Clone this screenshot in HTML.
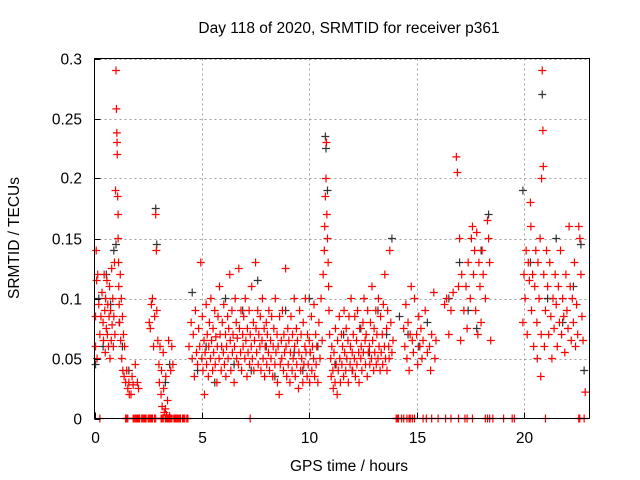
<!DOCTYPE html>
<html><head><meta charset="utf-8"><style>
body{margin:0;background:#fff;}
svg{display:block;font-family:"Liberation Sans",sans-serif;}
</style></head><body>
<svg id="chart" width="640" height="480" viewBox="0 0 640 480">
<rect width="640" height="480" fill="#fff"/>
<g id="grid"></g>
<g id="marks"></g>
<rect x="94.5" y="58.5" width="495" height="360" fill="none" stroke="#000" stroke-width="1"/>
<g id="ticks"></g>
<text x="349" y="33" font-size="15.5" text-anchor="middle">Day 118 of 2020, SRMTID for receiver p361</text>
<text x="349" y="471" font-size="15.5" text-anchor="middle">GPS time / hours</text>
<text transform="translate(19,238) rotate(-90)" font-size="15.5" text-anchor="middle">SRMTID / TECUs</text>
</svg>
<script>
const xTicks=[0,5,10,15,20];
const yTicks=[0,0.05,0.1,0.15,0.2,0.25,0.3];
const yTickLabels=["0","0.05","0.1","0.15","0.2","0.25","0.3"];
// red series: [hours, value]
const redEarly=[[0.05,0.085],[0.05,0.06],[0.08,0.14],[0.1,0.115],[0.12,0.05],[0.15,0.12],[0.2,0.095],[0.25,0.07],[0.3,0.085],[0.35,0.105],[0.4,0.08],[0.42,0.065],[0.45,0.12],[0.48,0.09],[0.5,0.055],[0.52,0.1],[0.55,0.075],[0.58,0.115],[0.6,0.07],[0.62,0.095],[0.65,0.06],[0.68,0.085],[0.7,0.11],[0.72,0.05],[0.75,0.09],[0.78,0.065],[0.8,0.125],[0.82,0.078],[0.85,0.1],[0.88,0.06],[0.9,0.085],[0.93,0.13],[0.95,0.07],[0.98,0.19],[1.0,0.29],[1.02,0.258],[1.04,0.238],[1.05,0.23],[1.06,0.22],[1.08,0.185],[1.1,0.17],[1.1,0.15],[1.12,0.13],[1.13,0.11],[1.15,0.095],[1.17,0.08],[1.2,0.12],[1.22,0.065],[1.25,0.1],[1.27,0.05],[1.3,0.085],[1.32,0.04],[1.35,0.07],[1.38,0.035],[1.4,0.06],[1.45,0.03],[1.5,0.04],[1.55,0.025],[1.6,0.03],[1.62,0.02],[1.7,0.02],[1.75,0.035],[1.8,0.028],[1.9,0.045],[2.0,0.03],[2.05,0.025]];
const redB=[[2.55,0.08],[2.6,0.075],[2.65,0.095],[2.7,0.1],[2.75,0.06],[2.8,0.085],[2.85,0.17],[2.88,0.14],[2.9,0.09],[2.95,0.065],[3.0,0.045],[3.02,0.03],[3.05,0.06],[3.1,0.02],[3.12,0.04],[3.15,0.01],[3.2,0.055],[3.22,0.025],[3.25,0.005],[3.3,0.008],[3.32,0.035],[3.35,0.003],[3.4,0.015],[3.45,0.065],[3.5,0.002],[3.55,0.04],[3.6,0.06],[3.65,0.045],[4.4,0.06],[4.5,0.08]];
const redBand=[[4.55,0.05],[4.6,0.07],[4.65,0.035],[4.7,0.09],[4.75,0.055],[4.8,0.045],[4.85,0.075],[4.9,0.06],[4.95,0.13],[5.0,0.05],[5.02,0.085],[5.05,0.04],[5.1,0.065],[5.12,0.02],[5.15,0.055],[5.2,0.095],[5.22,0.045],[5.25,0.07],[5.3,0.035],[5.32,0.06],[5.35,0.08],[5.4,0.05],[5.42,0.1],[5.45,0.065],[5.5,0.04],[5.52,0.075],[5.55,0.055],[5.6,0.09],[5.62,0.045],[5.65,0.068],[5.7,0.03],[5.72,0.06],[5.75,0.085],[5.8,0.05],[5.82,0.11],[5.85,0.07],[5.9,0.04],[5.92,0.06],[5.95,0.08],[6.0,0.055],[6.02,0.095],[6.05,0.045],[6.1,0.07],[6.12,0.035],[6.15,0.06],[6.2,0.085],[6.22,0.05],[6.25,0.075],[6.3,0.12],[6.32,0.065],[6.35,0.04],[6.4,0.09],[6.42,0.055],[6.45,0.07],[6.5,0.03],[6.52,0.06],[6.55,0.1],[6.6,0.08],[6.62,0.05],[6.65,0.067],[6.7,0.045],[6.72,0.125],[6.75,0.075],[6.8,0.055],[6.82,0.09],[6.85,0.04],[6.9,0.07],[6.92,0.06],[6.95,0.085],[7.0,0.05],[7.02,0.1],[7.05,0.065],[7.1,0.035],[7.12,0.075],[7.15,0.055],[7.2,0.09],[7.22,0.045],[7.25,0.07],[7.3,0.06],[7.32,0.11],[7.35,0.05],[7.4,0.08],[7.42,0.04],[7.45,0.065],[7.5,0.13],[7.52,0.075],[7.55,0.055],[7.6,0.09],[7.62,0.045],[7.65,0.07],[7.7,0.06],[7.72,0.085],[7.75,0.04],[7.8,0.065],[7.82,0.1],[7.85,0.05],[7.9,0.075],[7.92,0.035],[7.95,0.06],[8.0,0.08],[8.02,0.045],[8.05,0.07],[8.1,0.055],[8.12,0.09],[8.15,0.04],[8.2,0.065],[8.22,0.05],[8.25,0.085],[8.3,0.035],[8.32,0.06],[8.35,0.075],[8.4,0.045],[8.42,0.1],[8.45,0.055],[8.5,0.07],[8.52,0.03],[8.55,0.06],[8.6,0.02],[8.62,0.085],[8.65,0.045],[8.7,0.065],[8.72,0.05],[8.75,0.09],[8.8,0.04],[8.82,0.07],[8.85,0.055],[8.9,0.125],[8.92,0.06],[8.95,0.035],[9.0,0.075],[9.02,0.045],[9.05,0.065],[9.1,0.03],[9.12,0.055],[9.15,0.085],[9.2,0.04],[9.22,0.07],[9.25,0.05],[9.3,0.1],[9.32,0.06],[9.35,0.035],[9.4,0.075],[9.42,0.045],[9.45,0.065],[9.5,0.025],[9.52,0.055],[9.55,0.09],[9.6,0.04],[9.62,0.07],[9.65,0.05],[9.7,0.03],[9.72,0.08],[9.75,0.045],[9.8,0.06],[9.82,0.1],[9.85,0.055],[9.9,0.035],[9.92,0.07],[9.95,0.045],[10.0,0.065],[10.02,0.03],[10.05,0.055],[10.1,0.085],[10.12,0.04],[10.15,0.06],[10.2,0.05],[10.22,0.095],[10.25,0.035],[10.3,0.07],[10.32,0.045],[10.35,0.06],[10.4,0.03],[10.45,0.08],[10.5,0.05],[10.55,0.1],[10.6,0.065],[10.65,0.12],[10.7,0.14],[10.72,0.16],[10.75,0.185],[10.78,0.2],[10.8,0.23],[10.82,0.17],[10.85,0.15],[10.88,0.13],[10.9,0.11],[10.92,0.09],[10.95,0.07],[11.0,0.05],[11.02,0.035],[11.05,0.06],[11.1,0.04],[11.12,0.025],[11.15,0.055],[11.2,0.03],[11.22,0.075],[11.25,0.045],[11.3,0.02],[11.32,0.065],[11.35,0.04],[11.4,0.085],[11.42,0.05],[11.45,0.03],[11.5,0.07],[11.52,0.045],[11.55,0.06],[11.6,0.035],[11.62,0.09],[11.65,0.055],[11.7,0.04],[11.72,0.075],[11.75,0.05],[11.8,0.065],[11.82,0.03],[11.85,0.085],[11.9,0.045],[11.92,0.06],[11.95,0.1],[12.0,0.055],[12.02,0.04],[12.05,0.07],[12.1,0.05],[12.12,0.085],[12.15,0.035],[12.2,0.065],[12.22,0.045],[12.25,0.09],[12.3,0.055],[12.32,0.03],[12.35,0.075],[12.4,0.05],[12.42,0.06],[12.45,0.04],[12.5,0.08],[12.52,0.055],[12.55,0.1],[12.6,0.065],[12.62,0.045],[12.65,0.07],[12.7,0.035],[12.72,0.09],[12.75,0.055],[12.8,0.06],[12.82,0.045],[12.85,0.08],[12.9,0.05],[12.92,0.11],[12.95,0.065],[13.0,0.04],[13.02,0.075],[13.05,0.055],[13.1,0.09],[13.12,0.045],[13.15,0.07],[13.2,0.05],[13.22,0.1],[13.25,0.06],[13.3,0.04],[13.32,0.085],[13.35,0.055],[13.4,0.07],[13.42,0.045],[13.45,0.095],[13.5,0.06],[13.52,0.12],[13.55,0.05],[13.6,0.075],[13.62,0.04],[13.65,0.09],[13.7,0.06],[13.72,0.05],[13.75,0.14],[13.8,0.08],[13.85,0.055],[13.9,0.065]];
const redLate=[[14.4,0.075],[14.45,0.06],[14.5,0.095],[14.55,0.05],[14.6,0.08],[14.65,0.04],[14.7,0.07],[14.75,0.11],[14.8,0.065],[14.85,0.055],[14.9,0.1],[15.0,0.07],[15.05,0.045],[15.1,0.085],[15.15,0.06],[15.2,0.075],[15.25,0.05],[15.3,0.065],[15.4,0.09],[15.5,0.055],[15.6,0.06],[15.65,0.04],[15.7,0.07],[15.8,0.105],[15.85,0.05],[15.9,0.065],[16.3,0.095],[16.4,0.1],[16.5,0.07],[16.6,0.09],[16.7,0.105],[16.85,0.218],[16.9,0.205],[16.95,0.11],[17.0,0.15],[17.05,0.065],[17.1,0.12],[17.2,0.09],[17.3,0.11],[17.35,0.075],[17.4,0.13],[17.5,0.1],[17.55,0.15],[17.6,0.16],[17.65,0.12],[17.7,0.14],[17.75,0.09],[17.8,0.155],[17.85,0.07],[17.9,0.13],[17.95,0.11],[18.0,0.08],[18.05,0.14],[18.1,0.12],[18.2,0.1],[18.3,0.165],[18.35,0.15],[18.4,0.13],[18.45,0.065],[19.95,0.08],[20.0,0.12],[20.05,0.1],[20.1,0.14],[20.15,0.07],[20.2,0.13],[20.25,0.115],[20.3,0.18],[20.32,0.16],[20.35,0.09],[20.4,0.12],[20.45,0.06],[20.5,0.11],[20.55,0.14],[20.6,0.08],[20.62,0.05],[20.65,0.13],[20.7,0.1],[20.75,0.15],[20.78,0.035],[20.8,0.07],[20.82,0.2],[20.85,0.29],[20.88,0.24],[20.9,0.21],[20.92,0.12],[20.95,0.06],[21.0,0.09],[21.05,0.14],[21.1,0.11],[21.15,0.07],[21.2,0.13],[21.25,0.085],[21.3,0.05],[21.35,0.1],[21.4,0.075],[21.45,0.12],[21.5,0.095],[21.55,0.06],[21.6,0.11],[21.65,0.08],[21.7,0.14],[21.75,0.07],[21.8,0.1],[21.85,0.085],[21.9,0.055],[21.95,0.12],[22.0,0.09],[22.05,0.075],[22.1,0.16],[22.15,0.11],[22.2,0.065],[22.25,0.1],[22.3,0.08],[22.35,0.13],[22.4,0.06],[22.45,0.095],[22.5,0.07],[22.55,0.16],[22.6,0.15],[22.65,0.12],[22.7,0.085],[22.75,0.065],[22.85,0.022]];
// times with zero SRMTID (red marks on the axis)
const redZeroT=[0.25,1.45,1.5,1.55,1.8,1.85,1.9,1.95,2.0,2.05,2.1,2.2,2.25,2.3,2.35,2.4,2.5,2.55,2.6,2.65,2.7,2.8,2.85,3.1,3.15,3.2,3.3,3.35,3.4,3.45,3.5,3.55,3.6,3.7,3.75,3.8,3.85,3.9,3.95,4.0,4.1,4.15,4.2,4.3,4.35,7.25,14.05,14.1,14.15,14.3,14.4,14.55,14.65,14.7,14.8,14.9,15.3,15.45,15.7,16.0,16.35,16.6,16.95,17.25,17.35,17.6,18.2,18.3,18.4,18.55,19.05,19.45,19.55,21.0,22.55,22.6,22.8];
// black series: [hours, value]
const blackPts=[[0.05,0.045],[0.2,0.1],[0.4,0.06],[0.55,0.12],[0.75,0.095],[0.9,0.14],[1.0,0.145],[1.15,0.08],[1.3,0.06],[1.6,0.04],[2.85,0.175],[2.9,0.145],[3.3,0.03],[3.5,0.045],[4.55,0.105],[4.8,0.04],[5.2,0.06],[5.6,0.03],[6.1,0.1],[6.5,0.045],[6.9,0.09],[7.3,0.04],[7.6,0.115],[8.0,0.06],[8.4,0.035],[8.9,0.09],[9.3,0.055],[9.7,0.04],[10.0,0.1],[10.4,0.06],[10.75,0.235],[10.78,0.225],[10.85,0.19],[11.2,0.045],[11.6,0.07],[12.0,0.04],[12.4,0.075],[12.8,0.055],[13.2,0.09],[13.6,0.07],[13.85,0.15],[14.2,0.085],[14.6,0.07],[15.1,0.06],[15.5,0.08],[16.5,0.1],[17.0,0.13],[17.4,0.09],[17.8,0.075],[18.0,0.14],[18.35,0.17],[19.95,0.19],[20.3,0.13],[20.85,0.27],[21.1,0.1],[21.5,0.15],[21.8,0.08],[22.3,0.11],[22.65,0.145],[22.8,0.04]];

const XMAX=23.05;
const X0=94.5,X1=589.5,Y0=418.5,Y1=58.5;
function sx(h){return X0+(h/XMAX)*(X1-X0);}
function sy(v){return Y0-(v/0.3)*(Y0-Y1);}
const NS="http://www.w3.org/2000/svg";
const grid=document.getElementById('grid'),ticks=document.getElementById('ticks'),marks=document.getElementById('marks');
function el(t,a){const e=document.createElementNS(NS,t);for(const k in a)e.setAttribute(k,a[k]);return e;}
xTicks.forEach(h=>{
  const x=Math.round(sx(h))+0.5;
  if(h>0){const g=el('line',{x1:x,x2:x,y1:Y1,y2:Y0,stroke:'#a0a0a0','stroke-dasharray':'2,3'});
  
  grid.appendChild(g);}
  const tk=el('line',{x1:x,x2:x,y1:Y0,y2:Y0-6,stroke:'#000'});
  
  ticks.appendChild(tk);
  const t=el('text',{x:x,y:443,'font-size':15.5,'text-anchor':'middle'});t.textContent=String(h);
  
  ticks.appendChild(t);
});
yTicks.forEach((v,i)=>{
  const y=Math.round(sy(v))+0.5;
  if(v>0){const g=el('line',{x1:X0,x2:X1,y1:y,y2:y,stroke:'#a0a0a0','stroke-dasharray':'2,3'});
  
  grid.appendChild(g);}
  const tk=el('line',{x1:X0,x2:X0+6,y1:y,y2:y,stroke:'#000'});
  
  ticks.appendChild(tk);
  const t=el('text',{x:82,y:y+5,'font-size':15.5,'text-anchor':'end'});t.textContent=yTickLabels[i];
  
  ticks.appendChild(t);
});
function plus(h,v,c,name){
  const x=sx(h),y=sy(v);
  const p=el('path',{d:`M${x-4} ${y}H${x+4}M${x} ${y-4}V${y+4}`,stroke:c,'stroke-width':1.2,fill:'none'});
  
  
  marks.appendChild(p);
}
blackPts.forEach(p=>plus(p[0],p[1],'#333','black-point'));
[redEarly,redB,redBand,redLate].forEach(arr=>arr.forEach(p=>plus(p[0],p[1],'#f00','red-point')));
redZeroT.forEach(h=>plus(h,0,'#f00','red-zero-point'));
</script>
</body></html>
